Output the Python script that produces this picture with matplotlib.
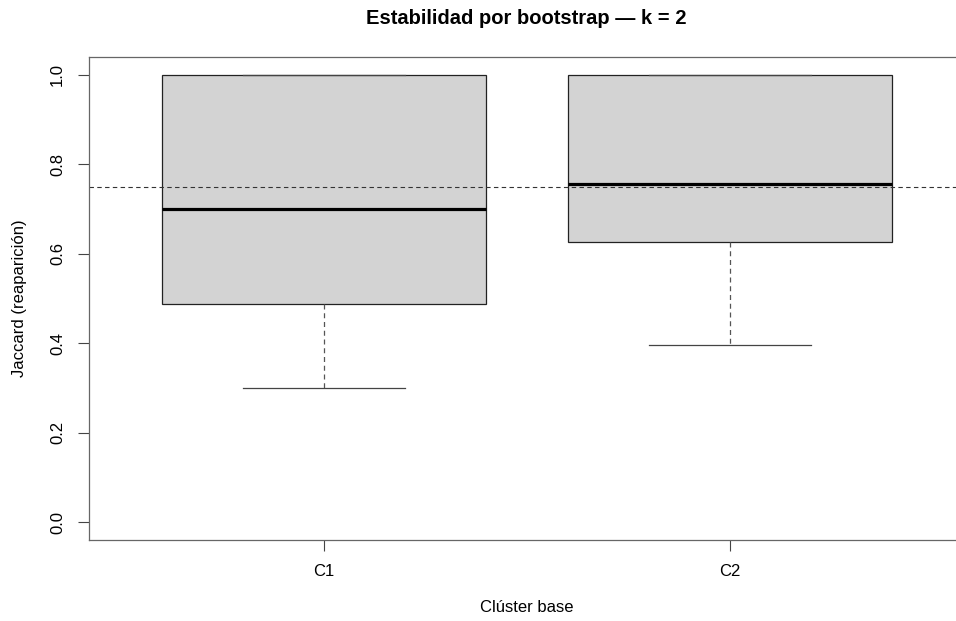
import matplotlib
matplotlib.use("Agg")
import matplotlib.pyplot as plt

plt.rcParams['font.family'] = ['Liberation Sans', 'DejaVu Sans']

# valores
clusters = ["C1", "C2"]
whislo = [0.299, 0.395]
q1 = [0.487, 0.627]
med = [0.701, 0.757]
q3 = [1.0, 1.0]
whishi = [1.0, 1.0]
umbral = 0.75

stats = []
for i, lab in enumerate(clusters):
    stats.append({"label": lab, "whislo": whislo[i], "q1": q1[i], "med": med[i],
                  "q3": q3[i], "whishi": whishi[i], "fliers": []})

fig = plt.figure(figsize=(9.56, 6.21), dpi=100)
W, H = 956, 621
ax = fig.add_axes([88.5 / W, (H - 540) / H, 877 / W, 483 / H])

ax.bxp(stats, positions=[1, 2], widths=0.8, patch_artist=True, showfliers=False,
       boxprops=dict(facecolor="#d3d3d3", edgecolor="#222222", linewidth=0.9),
       medianprops=dict(color="black", linewidth=2.3, solid_capstyle="butt"),
       whiskerprops=dict(color="#555555", linewidth=0.9, linestyle=(0, (4, 3))),
       capprops=dict(color="#444444", linewidth=0.9),
       capwidths=0.4)

ax.axhline(umbral, color="#333333", linewidth=0.8, linestyle=(0, (4, 3)))

ax.set_xlim(0.42, 2.58)
ax.set_ylim(-0.04, 1.04)
ax.set_yticks([0.0, 0.2, 0.4, 0.6, 0.8, 1.0])
ax.set_yticklabels(["0.0", "0.2", "0.4", "0.6", "0.8", "1.0"], rotation=90, va="center")
ax.set_xticks([1, 2])
ax.set_xticklabels(clusters)
ax.tick_params(axis="y", length=8, width=0.8, color="#444444", labelsize=12, pad=9)
ax.tick_params(axis="x", length=8, width=0.8, color="#444444", labelsize=12, pad=9)
for s in ax.spines.values():
    s.set_color("#666666")
    s.set_linewidth(0.9)

fig.text(526.5 / W, 1 - 18 / H, "Estabilidad por bootstrap — k = 2", ha="center", va="center",
         fontsize=14.5, fontweight="bold")
fig.text(527 / W, 1 - 608 / H, "Clúster base", ha="center", va="center", fontsize=12)
fig.text(20 / W, 1 - 298 / H, "Jaccard (reaparición)", ha="center", va="center",
         fontsize=12, rotation=90)

fig.savefig("out.png", dpi=100)
